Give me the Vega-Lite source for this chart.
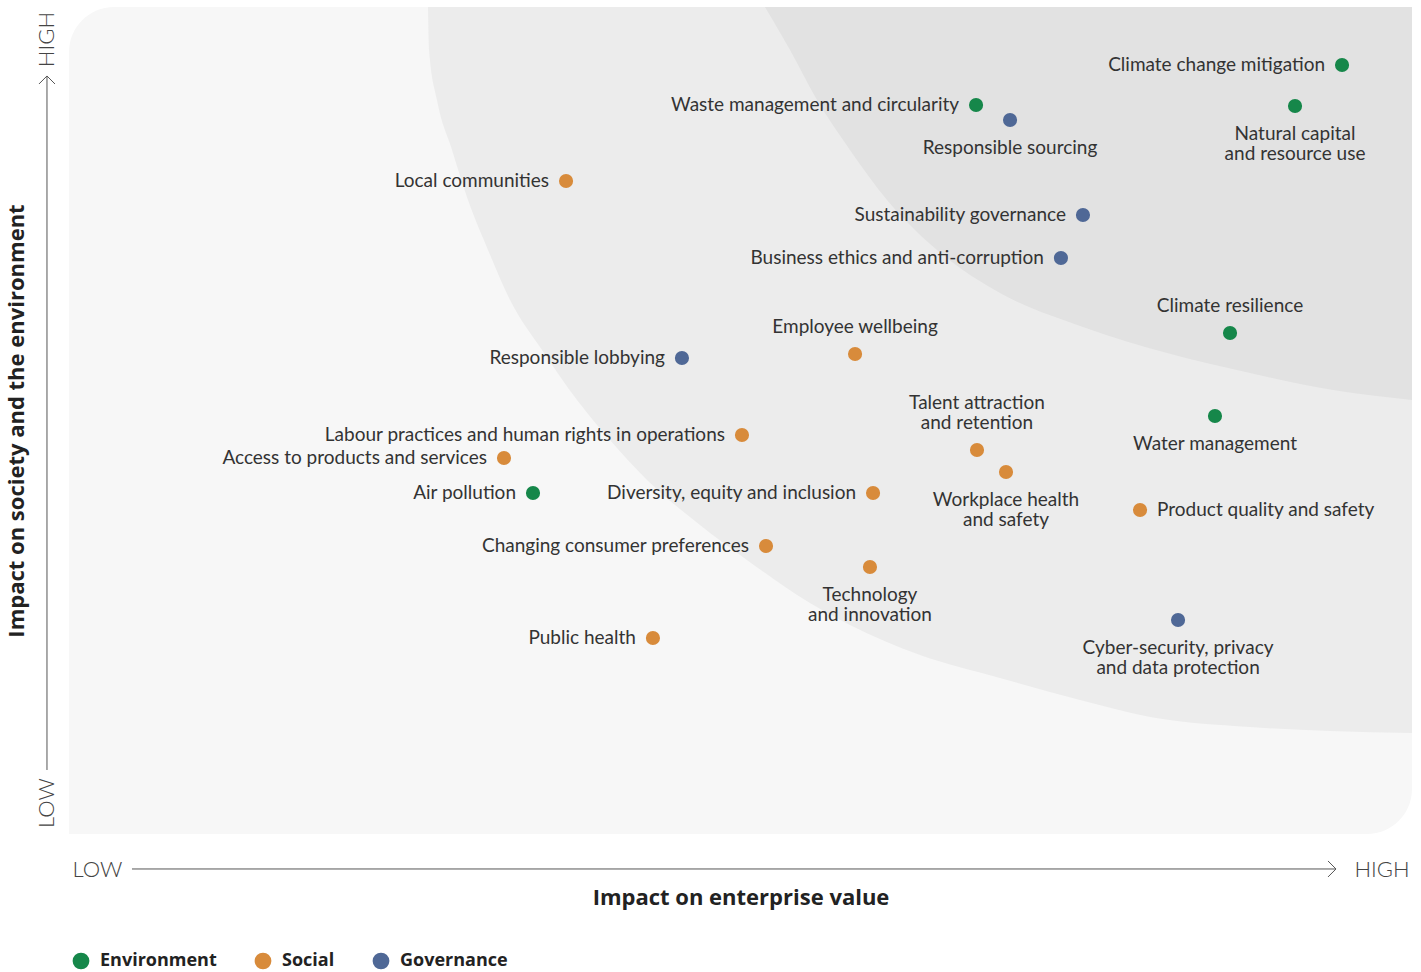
{
  "$schema": "https://vega.github.io/schema/vega-lite/v6.json",
  "width": 1343,
  "height": 827,
  "autosize": "none",
  "padding": {"left": 69, "top": 7, "right": 9, "bottom": 138},
  "background": "#ffffff",
  "config": {"view": {"stroke": null}, "font": "Lato"},
  "datasets": {
    "topics": [
      {"topic": "Climate change mitigation", "pillar": "Environment", "enterprise": 94.79, "society": 92.99},
      {"topic": "Natural capital and resource use", "pillar": "Environment", "enterprise": 91.29, "society": 88.03},
      {"topic": "Waste management and circularity", "pillar": "Environment", "enterprise": 67.54, "society": 88.15},
      {"topic": "Climate resilience", "pillar": "Environment", "enterprise": 86.45, "society": 60.58},
      {"topic": "Water management", "pillar": "Environment", "enterprise": 85.33, "society": 50.54},
      {"topic": "Air pollution", "pillar": "Environment", "enterprise": 34.55, "society": 41.23},
      {"topic": "Local communities", "pillar": "Social", "enterprise": 37.01, "society": 78.96},
      {"topic": "Employee wellbeing", "pillar": "Social", "enterprise": 58.53, "society": 58.04},
      {"topic": "Labour practices and human rights in operations", "pillar": "Social", "enterprise": 50.11, "society": 48.25},
      {"topic": "Access to products and services", "pillar": "Social", "enterprise": 32.39, "society": 45.47},
      {"topic": "Talent attraction and retention", "pillar": "Social", "enterprise": 67.61, "society": 46.43},
      {"topic": "Workplace health and safety", "pillar": "Social", "enterprise": 69.77, "society": 43.77},
      {"topic": "Diversity, equity and inclusion", "pillar": "Social", "enterprise": 59.87, "society": 41.23},
      {"topic": "Product quality and safety", "pillar": "Social", "enterprise": 79.75, "society": 39.18},
      {"topic": "Changing consumer preferences", "pillar": "Social", "enterprise": 51.90, "society": 34.82},
      {"topic": "Technology and innovation", "pillar": "Social", "enterprise": 59.64, "society": 32.29},
      {"topic": "Public health", "pillar": "Social", "enterprise": 43.48, "society": 23.70},
      {"topic": "Responsible sourcing", "pillar": "Governance", "enterprise": 70.07, "society": 86.34},
      {"topic": "Sustainability governance", "pillar": "Governance", "enterprise": 75.50, "society": 74.85},
      {"topic": "Business ethics and anti-corruption", "pillar": "Governance", "enterprise": 73.86, "society": 69.65},
      {"topic": "Responsible lobbying", "pillar": "Governance", "enterprise": 45.64, "society": 57.56},
      {"topic": "Cyber-security, privacy and data protection", "pillar": "Governance", "enterprise": 82.58, "society": 25.88}
    ],
    "zones": [
      {"zone": "middle", "enterprise": 26.73, "society": 100.0},
      {"zone": "middle", "enterprise": 26.81, "society": 94.80},
      {"zone": "middle", "enterprise": 27.40, "society": 88.75},
      {"zone": "middle", "enterprise": 28.52, "society": 82.71},
      {"zone": "middle", "enterprise": 29.71, "society": 76.66},
      {"zone": "middle", "enterprise": 31.20, "society": 70.62},
      {"zone": "middle", "enterprise": 32.84, "society": 64.57},
      {"zone": "middle", "enterprise": 35.22, "society": 58.53},
      {"zone": "middle", "enterprise": 37.83, "society": 52.48},
      {"zone": "middle", "enterprise": 40.28, "society": 47.64},
      {"zone": "middle", "enterprise": 43.04, "society": 42.81},
      {"zone": "middle", "enterprise": 46.98, "society": 37.36},
      {"zone": "middle", "enterprise": 50.48, "society": 33.13},
      {"zone": "middle", "enterprise": 55.17, "society": 27.93},
      {"zone": "middle", "enterprise": 58.15, "society": 25.27},
      {"zone": "middle", "enterprise": 63.37, "society": 21.64},
      {"zone": "middle", "enterprise": 69.32, "society": 18.86},
      {"zone": "middle", "enterprise": 75.28, "society": 16.20},
      {"zone": "middle", "enterprise": 80.49, "society": 14.15},
      {"zone": "middle", "enterprise": 87.94, "society": 12.94},
      {"zone": "middle", "enterprise": 93.89, "society": 12.45},
      {"zone": "middle", "enterprise": 100.0, "society": 12.21},
      {"zone": "inner", "enterprise": 51.82, "society": 100.0},
      {"zone": "inner", "enterprise": 53.69, "society": 94.80},
      {"zone": "inner", "enterprise": 55.70, "society": 88.75},
      {"zone": "inner", "enterprise": 58.15, "society": 82.71},
      {"zone": "inner", "enterprise": 60.91, "society": 76.66},
      {"zone": "inner", "enterprise": 64.63, "society": 70.62},
      {"zone": "inner", "enterprise": 69.32, "society": 65.42},
      {"zone": "inner", "enterprise": 75.50, "society": 61.31},
      {"zone": "inner", "enterprise": 81.76, "society": 58.16},
      {"zone": "inner", "enterprise": 87.94, "society": 55.74},
      {"zone": "inner", "enterprise": 94.12, "society": 53.69},
      {"zone": "inner", "enterprise": 100.0, "society": 52.48}
    ]
  },
  "layer": [
    {
      "data": {"values": [{}]},
      "mark": {"type": "rect", "color": "#f7f7f7", "cornerRadiusTopLeft": 45, "cornerRadiusBottomRight": 45},
      "encoding": {
        "x": {
          "datum": 0, "type": "quantitative",
          "scale": {"domain": [0, 100], "nice": false, "zero": false},
          "axis": {
            "title": "Impact on enterprise value", "titleFontSize": 22, "titleFontWeight": "bold", "titleFont": "Open Sans", "titleColor": "#222222", "titlePadding": 7,
            "values": [0, 100], "labelExpr": "datum.value === 0 ? 'LOW' : 'HIGH'", "labelFlush": true, "labelFlushOffset": -3,
            "labelFontSize": 22, "labelFontWeight": 300, "labelFont": "Lato", "labelColor": "#444444", "labelPadding": 25,
            "ticks": false, "tickSize": 0, "domain": false, "grid": false
          }
        },
        "x2": {"datum": 100},
        "y": {
          "datum": 0, "type": "quantitative",
          "scale": {"domain": [0, 100], "nice": false, "zero": false},
          "axis": {
            "title": "Impact on society and the environment", "titleFontSize": 22, "titleFontWeight": "bold", "titleFont": "Open Sans", "titleColor": "#222222", "titlePadding": 41,
            "labels": false, "ticks": false, "tickSize": 0, "domain": false, "grid": false
          }
        },
        "y2": {"datum": 100}
      }
    },
    {
      "data": {"name": "zones"},
      "transform": [{"filter": "datum.zone === 'middle'"}],
      "mark": {"type": "area", "color": "#ececec", "interpolate": "monotone", "orient": "vertical"},
      "encoding": {
        "x": {"field": "enterprise", "type": "quantitative"},
        "y": {"field": "society", "type": "quantitative"},
        "y2": {"datum": 100}
      }
    },
    {
      "data": {"name": "zones"},
      "transform": [{"filter": "datum.zone === 'inner'"}],
      "mark": {"type": "area", "color": "#e2e2e2", "interpolate": "monotone", "orient": "vertical"},
      "encoding": {
        "x": {"field": "enterprise", "type": "quantitative"},
        "y": {"field": "society", "type": "quantitative"},
        "y2": {"datum": 100}
      }
    },
    {
      "data": {"values": [{}]},
      "mark": {"type": "rule", "color": "#555555", "strokeWidth": 1},
      "encoding": {
        "x": {"datum": -1.64, "type": "quantitative"},
        "y": {"datum": 7.74, "type": "quantitative"},
        "y2": {"datum": 91.66}
      }
    },
    {
      "data": {"values": [{}]},
      "mark": {"type": "rule", "color": "#555555", "strokeWidth": 1},
      "encoding": {
        "y": {"datum": -4.23, "type": "quantitative"},
        "x": {"datum": 4.69, "type": "quantitative"},
        "x2": {"datum": 94.34}
      }
    },
    {
      "data": {"values": [{}]},
      "mark": {"type": "point", "shape": "M-1,1L0,0L1,1", "size": 256, "filled": false, "stroke": "#555555", "strokeWidth": 1, "opacity": 1},
      "encoding": {
        "x": {"datum": -1.64, "type": "quantitative"},
        "y": {"datum": 91.66, "type": "quantitative"}
      }
    },
    {
      "data": {"values": [{}]},
      "mark": {"type": "point", "shape": "M-1,-1L0,0L-1,1", "size": 256, "filled": false, "stroke": "#555555", "strokeWidth": 1, "opacity": 1},
      "encoding": {
        "x": {"datum": 94.34, "type": "quantitative"},
        "y": {"datum": -4.23, "type": "quantitative"}
      }
    },
    {
      "data": {"values": [{}]},
      "mark": {"type": "text", "angle": 270, "align": "left", "baseline": "middle", "dx": 6, "fontSize": 22, "fontWeight": 300, "font": "Lato", "color": "#444444"},
      "encoding": {
        "x": {"datum": -1.64, "type": "quantitative"},
        "y": {"datum": 0, "type": "quantitative"},
        "text": {"value": "LOW"}
      }
    },
    {
      "data": {"values": [{}]},
      "mark": {"type": "text", "angle": 270, "align": "right", "baseline": "middle", "dx": -5, "fontSize": 22, "fontWeight": 300, "font": "Lato", "color": "#444444"},
      "encoding": {
        "x": {"datum": -1.64, "type": "quantitative"},
        "y": {"datum": 100, "type": "quantitative"},
        "text": {"value": "HIGH"}
      }
    },
    {
      "data": {"name": "topics"},
      "mark": {"type": "circle", "size": 200, "opacity": 1},
      "encoding": {
        "x": {"field": "enterprise", "type": "quantitative"},
        "y": {"field": "society", "type": "quantitative"},
        "color": {
          "field": "pillar", "type": "nominal",
          "scale": {"domain": ["Environment", "Social", "Governance"], "range": ["#16874a", "#d88b3b", "#4f6896"]},
          "legend": {
            "orient": "none", "legendX": 3, "legendY": 945, "direction": "horizontal", "title": null,
            "symbolType": "circle", "symbolSize": 280, "symbolStrokeWidth": 0, "symbolOpacity": 1,
            "labelFontSize": 18, "labelFontWeight": "bold", "labelFont": "Open Sans", "labelColor": "#222222",
            "columnPadding": 37, "labelOffset": 10, "padding": 0
          }
        }
      }
    },
    {
      "data": {"name": "topics"},
      "transform": [{"filter": {"field": "topic", "oneOf": ["Climate change mitigation", "Waste management and circularity", "Air pollution", "Local communities", "Labour practices and human rights in operations", "Access to products and services", "Diversity, equity and inclusion", "Changing consumer preferences", "Public health", "Sustainability governance", "Business ethics and anti-corruption", "Responsible lobbying"]}}],
      "mark": {"type": "text", "align": "right", "baseline": "middle", "dx": -17, "fontSize": 19, "font": "Lato", "color": "#333333"},
      "encoding": {
        "x": {"field": "enterprise", "type": "quantitative"},
        "y": {"field": "society", "type": "quantitative"},
        "text": {"field": "topic"}
      }
    },
    {
      "data": {"name": "topics"},
      "transform": [{"filter": {"field": "topic", "oneOf": ["Product quality and safety"]}}],
      "mark": {"type": "text", "align": "left", "baseline": "middle", "dx": 17, "fontSize": 19, "font": "Lato", "color": "#333333"},
      "encoding": {
        "x": {"field": "enterprise", "type": "quantitative"},
        "y": {"field": "society", "type": "quantitative"},
        "text": {"field": "topic"}
      }
    },
    {
      "data": {"name": "topics"},
      "transform": [{"filter": {"field": "topic", "oneOf": ["Climate resilience", "Employee wellbeing"]}}],
      "mark": {"type": "text", "align": "center", "baseline": "bottom", "dy": -17, "fontSize": 19, "font": "Lato", "color": "#333333"},
      "encoding": {
        "x": {"field": "enterprise", "type": "quantitative"},
        "y": {"field": "society", "type": "quantitative"},
        "text": {"field": "topic"}
      }
    },
    {
      "data": {"name": "topics"},
      "transform": [
        {"filter": {"field": "topic", "oneOf": ["Talent attraction and retention"]}},
        {"calculate": "replace(datum.topic, ' and ', '\\nand ')", "as": "label"}
      ],
      "mark": {"type": "text", "align": "center", "baseline": "bottom", "dy": -37, "lineBreak": "\n", "lineHeight": 20, "fontSize": 19, "font": "Lato", "color": "#333333"},
      "encoding": {
        "x": {"field": "enterprise", "type": "quantitative"},
        "y": {"field": "society", "type": "quantitative"},
        "text": {"field": "label"}
      }
    },
    {
      "data": {"name": "topics"},
      "transform": [
        {"filter": {"field": "topic", "oneOf": ["Natural capital and resource use", "Water management", "Responsible sourcing", "Workplace health and safety", "Technology and innovation", "Cyber-security, privacy and data protection"]}},
        {"calculate": "replace(datum.topic, ' and ', '\\nand ')", "as": "label"}
      ],
      "mark": {"type": "text", "align": "center", "baseline": "top", "dy": 19, "lineBreak": "\n", "lineHeight": 20, "fontSize": 19, "font": "Lato", "color": "#333333"},
      "encoding": {
        "x": {"field": "enterprise", "type": "quantitative"},
        "y": {"field": "society", "type": "quantitative"},
        "text": {"field": "label"}
      }
    }
  ]
}
